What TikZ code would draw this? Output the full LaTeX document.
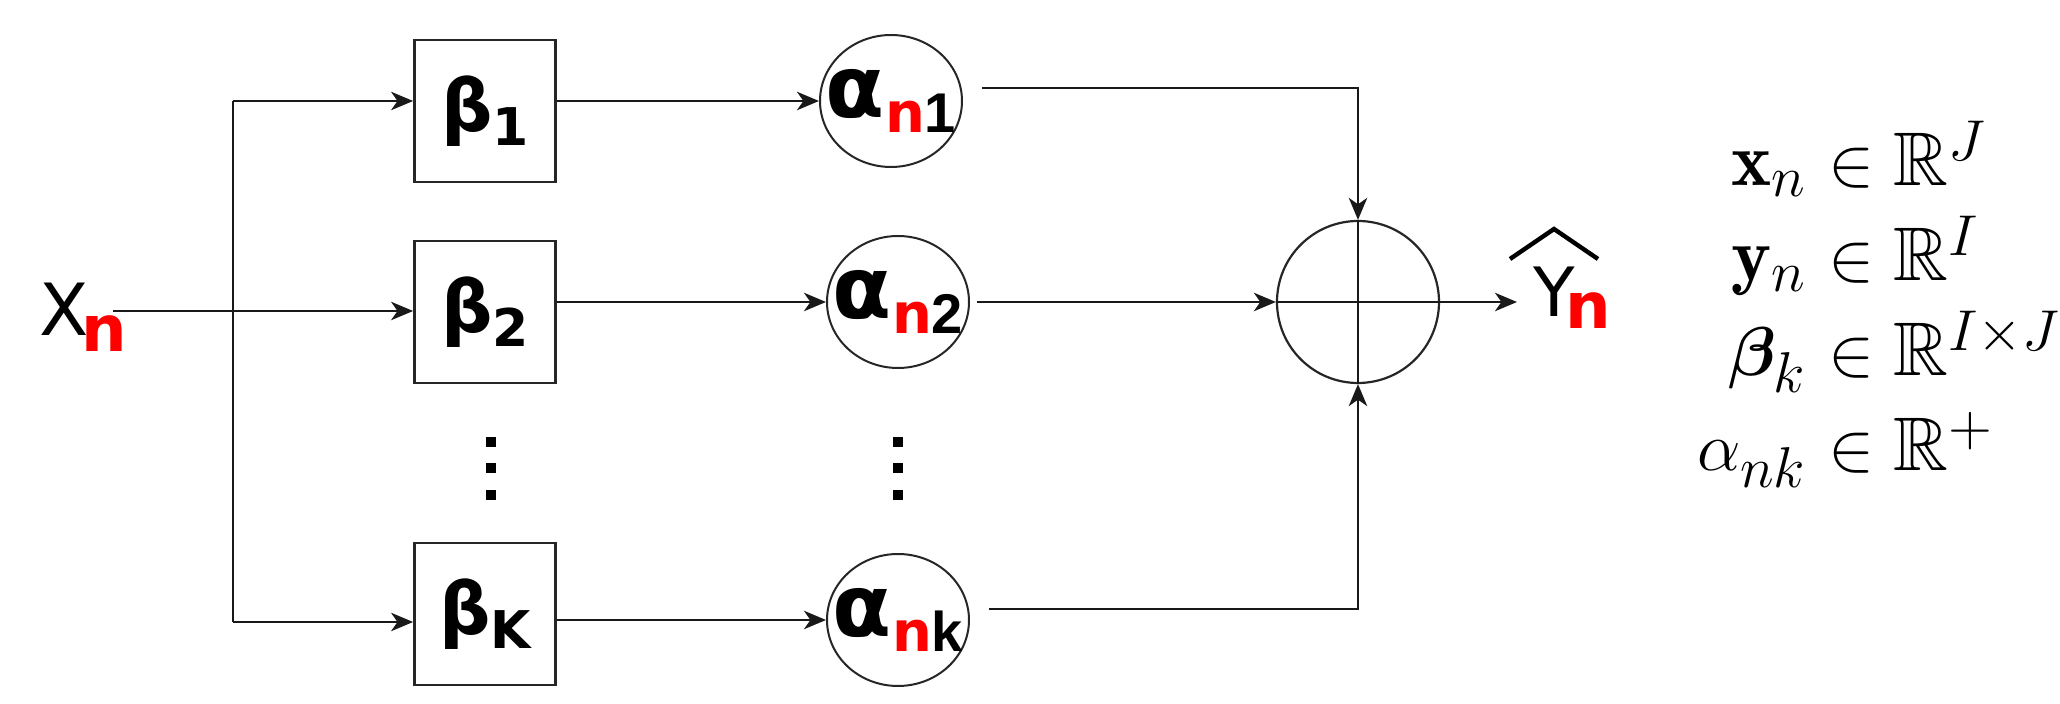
\documentclass[tikz,border=0pt]{standalone}
\usepackage{fontspec}
\usepackage{amsmath,amssymb,bm}
\usetikzlibrary{arrows.meta,shapes.geometric}

\newfontfamily\dejavu{DejaVu Sans}
\newfontfamily\arialfont{Liberation Sans}

% labels of the blocks
\newcommand{\betalbl}[1]{{\dejavu\bfseries\fontsize{18}{20}\selectfont β\raisebox{-3.5pt}{\fontsize{13}{14}\selectfont #1}}}
\newcommand{\alphalbl}[1]{\makebox[0pt]{\dejavu\bfseries\fontsize{21.5}{22}\selectfont α\raisebox{-3.75pt}{\fontsize{14}{15}\selectfont\textcolor{red}{n}\arialfont #1}}}
\newcommand{\xlbl}{{\dejavu\fontsize{18}{20}\selectfont X\kern-2pt\raisebox{-4pt}{\bfseries\fontsize{16}{16}\selectfont\textcolor{red}{n}}}}
\newcommand{\ylbl}{{\dejavu\fontsize{17}{20}\selectfont Y\kern-2.5pt\raisebox{-3pt}{\bfseries\fontsize{16}{16}\selectfont\textcolor{red}{n}}}}

\begin{document}
\begin{tikzpicture}[
    x=0.25pt, y=-0.25pt,
    line/.style={draw=black!90, line width=0.6pt},
    arr/.style={line, -{Stealth[length=5.5pt, width=4.6pt, inset=1.6pt]}},
    blk/.style={draw=black!85, line width=0.7pt, rectangle, minimum width=35.25pt, minimum height=35.5pt, inner sep=0pt},
    wgt/.style={draw=black!85, line width=0.5pt, ellipse, minimum width=35.5pt, minimum height=33pt, inner sep=0pt},
    adder/.style={draw=black!85, line width=0.55pt, circle, minimum size=40.5pt, inner sep=0pt},
    sqdot/.style={rectangle, fill=black, minimum size=2.6pt, inner sep=0pt},
    mathrow/.style={inner sep=0pt, font=\fontsize{19}{22}\selectfont}
]
    \useasboundingbox (0,0) rectangle (2060,704);

    % ==========================
    % input and the beta blocks
    % ==========================
    \node[anchor=base west, inner sep=0pt] (xn) at (39,336) {\xlbl};

    \foreach \i/\y in {1/111, 2/312, K/614}
        \node[blk] (b\i) at (485,\y) {\betalbl{\i}};

    % ==========================
    % the alpha weights
    % ==========================
    \foreach \i/\x/\y in {1/891/101, 2/898/302, k/898/620}
        \node[wgt] (a\i) at (\x,\y) {\alphalbl{\i}};

    % vertical dots between the rows
    \foreach \x/\s in {491/l, 898/r}
        \foreach \y [count=\j] in {442, 468, 495}
            \node[sqdot] (d\s\j) at (\x,\y) {};

    % adder and output
    \node[adder] (sum) at (1358,302) {};
    \node[anchor=base west, inner sep=0pt] (yn) at (1533,317) {\ylbl};
    \draw[line width=1.1pt] (1510,259) -- (1554,229) -- (1598,259);

    % free ends of the connectors
    \coordinate (xin) at (113,311);
    \coordinate (stop) at (233,101);
    \coordinate (sbot) at (233,622);
    \coordinate (a1out) at (982,88);
    \coordinate (a2out) at (977,302);
    \coordinate (akout) at (989,609);
    \coordinate (yout) at (1517,302);

    % ==========================
    % connectors
    % ==========================
    \draw[arr] (xin) -- (b2.west |- xin);
    \draw[line] (stop) -- (sbot);
    \draw[arr] (stop) -- (b1.west |- stop);
    \draw[arr] (sbot) -- (bK.west |- sbot);

    \draw[arr] (b1.east |- a1) -- (a1.west);
    \draw[arr] (b2.east |- a2) -- (a2.west);
    \draw[arr] (bK.east |- ak) -- (ak.west);

    \draw[arr] (a1out) -| (sum.north);
    \draw[arr] (a2out) -- (sum.west);
    \draw[arr] (akout) -| (sum.south);
    \draw[line] (sum.north) -- (sum.south);
    \draw[line] (sum.west) -- (sum.east);
    \draw[arr] (sum.east) -- (yout);

    % ==========================
    % notation on the right
    % ==========================
    \foreach \lhs/\rhs/\y [count=\r] in {
        {\mathbf{x}_n}/{J}/186,
        {\mathbf{y}_n}/{I}/281,
        {\bm{\beta}_k}/{I\times J}/376,
        {\alpha_{nk}}/{+}/471}
    {
        \node[mathrow, anchor=base east] (l\r) at (1808,\y) {$\lhs$};
        \node[mathrow, anchor=base west] (r\r) at (l\r.base east) {${}\in\mathbb{R}^{\rhs}$};
    }
\end{tikzpicture}
\end{document}
